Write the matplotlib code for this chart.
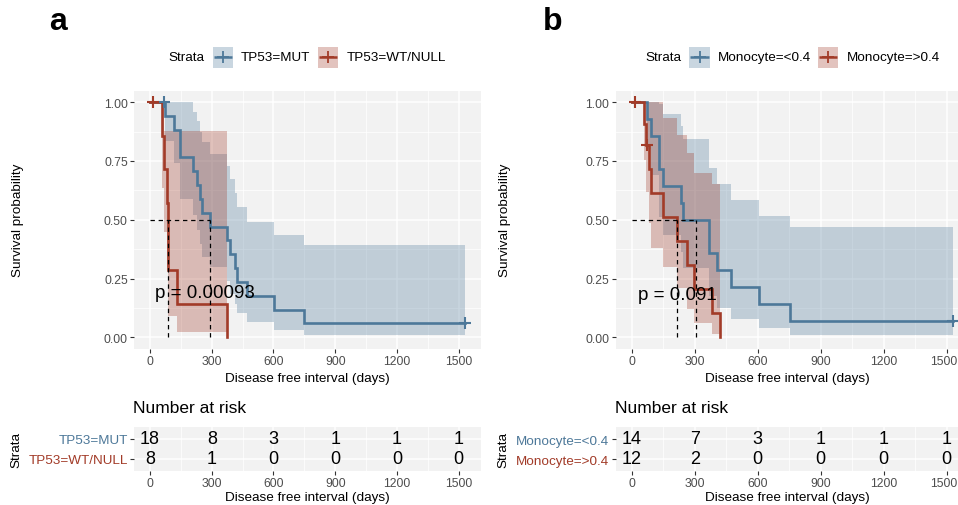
import matplotlib
matplotlib.use("Agg")
import matplotlib.pyplot as plt
import matplotlib.transforms as mtrans
from matplotlib.patches import Rectangle
from matplotlib.ticker import FixedLocator

plt.rcParams['font.family'] = ['Liberation Sans', 'DejaVu Sans']

W, H = 958, 506
BLUE = "#4D7899"
RED = "#A23B28"
PANEL = "#F2F2F2"
TICKCOL = "#4D4D4D"

# ---------------- data: panel a ----------------
a_groups = ["TP53=MUT", "TP53=WT/NULL"]
a_mut_time = [0, 72, 118, 146, 211, 227, 243, 251, 292, 373, 391, 412, 423, 470, 603, 750]
a_mut_surv = [1.0, 0.941, 0.882, 0.765, 0.706, 0.647, 0.588, 0.529, 0.471, 0.412, 0.353, 0.294, 0.235, 0.176, 0.118, 0.059]
a_mut_lower = [1.0, 0.836, 0.742, 0.588, 0.519, 0.456, 0.395, 0.340, 0.300, 0.240, 0.185, 0.141, 0.104, 0.064, 0.032, 0.010]
a_mut_upper = [1.0, 1.0, 1.0, 1.0, 0.959, 0.919, 0.875, 0.829, 0.780, 0.727, 0.672, 0.614, 0.554, 0.491, 0.434, 0.394]
a_mut_end, a_mut_end_surv = 1531, 0.059
a_mut_cens_time = [70, 1531]
a_mut_cens_surv = [1.0, 0.059]

a_wt_time = [0, 60, 69, 80, 87, 89, 130]
a_wt_surv = [1.0, 0.857, 0.714, 0.571, 0.429, 0.286, 0.143]
a_wt_lower = [1.0, 0.633, 0.447, 0.301, 0.182, 0.089, 0.023]
a_wt_upper = [1.0, 1.0, 0.877, 0.877, 0.877, 0.877, 0.877]
a_wt_end, a_wt_end_surv = 373, 0.0
a_wt_cens_time = [13]
a_wt_cens_surv = [1.0]

a_medians = [292, 87]
a_pval = "p = 0.00093"
a_pval_pos = (24, 0.170)

a_risk_time = [0, 300, 600, 900, 1200, 1500]
a_risk_mut = [18, 8, 3, 1, 1, 1]
a_risk_wt = [8, 1, 0, 0, 0, 0]

# ---------------- data: panel b ----------------
b_groups = ["Monocyte=<0.4", "Monocyte=>0.4"]
b_lo_time = [0, 74, 92, 130, 147, 233, 246, 370, 405, 471, 605, 754]
b_lo_surv = [1.0, 0.929, 0.857, 0.714, 0.643, 0.571, 0.500, 0.357, 0.286, 0.214, 0.143, 0.071]
b_lo_lower = [1.0, 0.803, 0.692, 0.513, 0.435, 0.363, 0.296, 0.177, 0.125, 0.079, 0.040, 0.011]
b_lo_upper = [1.0, 1.0, 1.0, 0.994, 0.950, 0.899, 0.844, 0.721, 0.654, 0.584, 0.516, 0.471]
b_lo_end, b_lo_end_surv = 1531, 0.071
b_lo_cens_time = [1531]
b_lo_cens_surv = [0.071]

b_hi_time = [0, 58, 68, 84, 90, 148, 214, 262, 298, 383]
b_hi_surv = [1.0, 0.909, 0.818, 0.716, 0.614, 0.511, 0.409, 0.307, 0.204, 0.102]
b_hi_lower = [1.0, 0.755, 0.620, 0.488, 0.380, 0.300, 0.210, 0.120, 0.062, 0.014]
b_hi_upper = [1.0, 1.0, 1.0, 1.0, 1.0, 0.935, 0.862, 0.783, 0.699, 0.651]
b_hi_end, b_hi_end_surv = 423, 0.0
b_hi_cens_time = [16, 71]
b_hi_cens_surv = [1.0, 0.818]

b_medians = [308, 214]
b_pval = "p = 0.091"
b_pval_pos = (30, 0.163)

b_risk_time = [0, 300, 600, 900, 1200, 1500]
b_risk_lo = [14, 7, 3, 1, 1, 1]
b_risk_hi = [12, 2, 0, 0, 0, 0]

x_ticks = [0, 300, 600, 900, 1200, 1500]
x_minor = [150, 450, 750, 1050, 1350]
y_ticks = [0, 0.25, 0.5, 0.75, 1.0]
y_minor = [0.125, 0.375, 0.625, 0.875]

# ---------------- figure ----------------
fig = plt.figure(figsize=(W / 100, H / 100), dpi=100)
fig.patch.set_facecolor("white")


def add_ax(x0, y0, x1, y1):
    return fig.add_axes([x0 / W, 1 - y1 / H, (x1 - x0) / W, (y1 - y0) / H])


def style(ax):
    ax.set_facecolor(PANEL)
    for s in ax.spines.values():
        s.set_visible(False)
    ax.set_axisbelow(True)
    ax.tick_params(which='major', length=2.6, width=0.8, color='#333333',
                   labelcolor=TICKCOL, labelsize=8.8, pad=2)
    ax.tick_params(which='minor', length=0)


def km_panel(ax, groups_data, medians, pval, pval_pos, xlim):
    style(ax)
    ax.set_xlim(*xlim)
    ax.set_ylim(-0.05, 1.05)
    ax.set_xticks(x_ticks)
    ax.xaxis.set_minor_locator(FixedLocator(x_minor))
    ax.set_yticks(y_ticks)
    ax.set_yticklabels(["0.00", "0.25", "0.50", "0.75", "1.00"])
    ax.yaxis.set_minor_locator(FixedLocator(y_minor))
    ax.grid(which='major', color='white', lw=1.1)
    ax.grid(which='minor', color='white', lw=0.55)
    # bands
    for (t, s, lo, hi, end, end_s, ct, cs, col) in groups_data:
        bx = list(t) + [end]
        ax.fill_between(bx, list(lo) + [lo[-1]], list(hi) + [hi[-1]], step='post',
                        color=col, alpha=0.3, linewidth=0, zorder=2)
    # lines
    for (t, s, lo, hi, end, end_s, ct, cs, col) in groups_data:
        ax.step(list(t) + [end], list(s) + [end_s], where='post', color=col,
                lw=1.9, zorder=3, solid_joinstyle='miter')
        ax.plot(ct, cs, ls='none', marker='+', ms=8, mew=1.5, color=col, zorder=4)
    # median lines
    ax.plot([0, max(medians)], [0.5, 0.5], color='black', lw=0.9, ls=(0, (3.5, 3)), zorder=5)
    for m in medians:
        ax.plot([m, m], [0, 0.5], color='black', lw=0.9, ls=(0, (3.5, 3)), zorder=5)
    ax.text(pval_pos[0], pval_pos[1], pval, fontsize=13.5, ha='left', va='baseline',
            color='black', zorder=6)


def risk_panel(ax, groups, counts, xlim):
    style(ax)
    ax.set_xlim(*xlim)
    ax.set_ylim(0.4, 2.6)
    ax.set_xticks(x_ticks)
    ax.xaxis.set_minor_locator(FixedLocator(x_minor))
    ax.set_yticks([2, 1])
    ax.set_yticklabels(groups)
    ax.tick_params(axis='y', labelsize=9.7)
    for lab, col in zip(ax.get_yticklabels(), [BLUE, RED]):
        lab.set_color(col)
    ax.grid(which='major', color='white', lw=1.1)
    ax.grid(which='minor', axis='x', color='white', lw=0.55)
    for row, cnt in zip([2, 1], counts):
        for t, n in zip(x_ticks, cnt):
            ax.text(t, row, str(n), ha='center', va='center', fontsize=13, color='black')


a_xlim = (-77, 1608)
b_xlim = (-77, 1554)

ax_a = add_ax(134.2, 91.5, 480.9, 350)
km_panel(ax_a,
         [(a_mut_time, a_mut_surv, a_mut_lower, a_mut_upper, a_mut_end, a_mut_end_surv,
           a_mut_cens_time, a_mut_cens_surv, BLUE),
          (a_wt_time, a_wt_surv, a_wt_lower, a_wt_upper, a_wt_end, a_wt_end_surv,
           a_wt_cens_time, a_wt_cens_surv, RED)],
         a_medians, a_pval, a_pval_pos, a_xlim)

ax_b = add_ax(615.5, 91.5, 958, 350)
km_panel(ax_b,
         [(b_lo_time, b_lo_surv, b_lo_lower, b_lo_upper, b_lo_end, b_lo_end_surv,
           b_lo_cens_time, b_lo_cens_surv, BLUE),
          (b_hi_time, b_hi_surv, b_hi_lower, b_hi_upper, b_hi_end, b_hi_end_surv,
           b_hi_cens_time, b_hi_cens_surv, RED)],
         b_medians, b_pval, b_pval_pos, b_xlim)

rk_a = add_ax(134.2, 428, 480.9, 472)
risk_panel(rk_a, a_groups, [a_risk_mut, a_risk_wt], a_xlim)
rk_b = add_ax(615.5, 428, 958, 472)
risk_panel(rk_b, b_groups, [b_risk_lo, b_risk_hi], b_xlim)

# keep the right-most tick labels inside the canvas
for ax in (ax_b, rk_b):
    labs = ax.get_xticklabels()
    labs[-1].set_horizontalalignment('right')
    off = mtrans.ScaledTranslation(11 / 100, 0, fig.dpi_scale_trans)
    labs[-1].set_transform(labs[-1].get_transform() + off)

# ---------------- overlay texts / legends ----------------
ov = fig.add_axes([0, 0, 1, 1])
ov.set_xlim(0, W)
ov.set_ylim(H, 0)
ov.axis('off')
ov.patch.set_alpha(0)
ov.set_zorder(10)

TXT = 9.7


def legend(x_title, keys):
    ov.text(x_title, 58, "Strata", fontsize=TXT, ha='left', va='center')
    for (kx, tx, label, col) in keys:
        ov.add_patch(Rectangle((kx, 48), 20.5, 20.5, facecolor=col, alpha=0.3, edgecolor='none'))
        ov.plot([kx + 1, kx + 19.5], [58.2, 58.2], color=col, lw=1.8, solid_capstyle='butt')
        ov.plot([kx + 10.25], [58.2], marker='+', ms=9, mew=1.3, color=col)
        ov.text(tx, 58, label, fontsize=TXT, ha='left', va='center')


legend(168, [(212.7, 240.7, a_groups[0], BLUE), (318, 346.7, a_groups[1], RED)])
legend(645, [(689.3, 718.3, b_groups[0], BLUE), (818, 847.3, b_groups[1], RED)])

ov.text(58, 30, "a", fontsize=23, fontweight='bold', ha='center', va='baseline')
ov.text(553, 30, "b", fontsize=23, fontweight='bold', ha='center', va='baseline')

for ylx, cx, nx in [(18, 307.5, 133.3), (505, 787.7, 615.5)]:
    ov.text(ylx, 220, "Survival probability", fontsize=TXT, rotation=90, ha='center', va='center')
    ov.text(cx, 379, "Disease free interval (days)", fontsize=TXT, ha='center', va='center')
    ov.text(nx, 409, "Number at risk", fontsize=12.5, ha='left', va='center')
    ov.text(ylx - 1.5, 450, "Strata", fontsize=TXT, rotation=90, ha='center', va='center')
    ov.text(cx, 498, "Disease free interval (days)", fontsize=TXT, ha='center', va='center')

fig.savefig("out.png", dpi=100, facecolor='white')
